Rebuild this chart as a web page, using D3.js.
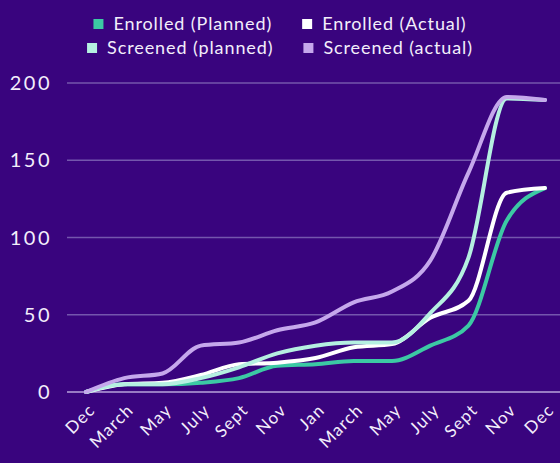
<!DOCTYPE html>
<html>
<head>
<meta charset="utf-8">
<script src="https://cdn.jsdelivr.net/npm/d3@7"></script>
<style>
  html, body { margin: 0; padding: 0; background: #39047e; }
  svg text { font-family: Lato, "Noto Sans", sans-serif; fill: #f3eefb; }
</style>
</head>
<body>
<div class="chart"></div>
<script>
var width = 560, height = 463

// month labels on the x axis (categorical, repeat across two years)
var months = ['Dec', 'March', 'May', 'July', 'Sept', 'Nov', 'Jan', 'March', 'May', 'July', 'Sept', 'Nov', 'Dec']
var yTicks = [0, 50, 100, 150, 200]

var enrolledPlanned  = [0, 5, 5, 6, 9, 17, 18, 20, 20, 30, 43, 111, 132]
var enrolledActual   = [0, 5, 6, 11, 18, 19, 22, 29, 31, 48, 59, 129, 132]
var screenedPlanned  = [0, 5, 5, 9, 16, 25, 30, 32, 32, 51, 87, 190, 189]
var screenedActual   = [0, 9, 12, 30, 32, 40, 45, 58, 65, 85, 142, 191, 189]

var seriesNames = ['Enrolled (Planned)', 'Enrolled (Actual)', 'Screened (planned)', 'Screened (actual)']
var seriesColors = ['#3cc9a4', '#ffffff', '#b5f0e1', '#c5a8ec']

function drawGraph() {
    var svg = d3.select('.chart')
        .append('svg')
        .attr('width', width)
        .attr('height', height)

    var x = d3.scalePoint()
        .domain(d3.range(months.length))
        .range([86, 545])

    var y = d3.scaleLinear()
        .domain([0, 200])
        .range([392, 83])

    // gridlines
    svg.append('g')
        .selectAll('line')
        .data(yTicks)
        .enter()
        .append('line')
        .attr('x1', 67)
        .attr('x2', width)
        .attr('y1', d => y(d))
        .attr('y2', d => y(d))
        .attr('stroke', d => d === 0 ? '#b9a3dc' : '#7456ad')
        .attr('stroke-width', 1.5)

    // y labels
    svg.append('g')
        .selectAll('text')
        .data(yTicks)
        .enter()
        .append('text')
        .attr('x', 52)
        .attr('y', d => y(d))
        .attr('dy', '0.36em')
        .attr('text-anchor', 'end')
        .style('font-size', '20px')
        .style('letter-spacing', '2.5px')
        .text(d => d)

    // x labels, rotated
    svg.append('g')
        .selectAll('text')
        .data(d3.range(months.length))
        .enter()
        .append('text')
        .attr('transform', d => 'translate(' + (x(d) + 6) + ',' + 407 + ') rotate(-45)')
        .attr('text-anchor', 'end')
        .attr('dy', '0.35em')
        .style('font-size', '17px')
        .style('letter-spacing', '1.2px')
        .text(d => months[d])

    var allSeries = [enrolledPlanned, enrolledActual, screenedPlanned, screenedActual]

    var line = d3.line()
        .x((d, i) => x(i))
        .y(d => y(d))
        .curve(d3.curveMonotoneX)

    svg.append('g')
        .selectAll('path')
        .data(allSeries)
        .enter()
        .append('path')
        .attr('d', line)
        .attr('fill', 'none')
        .attr('stroke', (d, i) => seriesColors[i])
        .attr('stroke-width', 4)
        .attr('stroke-linecap', 'round')
        .attr('stroke-linejoin', 'round')

    // legend: two rows, each centered
    var rows = [[0, 1], [2, 3]]
    var rowY = [24, 48]
    rows.forEach(function(row, r) {
        var g = svg.append('g')
        var cx = 0
        row.forEach(function(s, k) {
            if (k > 0) cx += 30
            g.append('rect')
                .attr('x', cx)
                .attr('y', rowY[r] - 5)
                .attr('width', 10)
                .attr('height', 10)
                .attr('fill', seriesColors[s])
            var t = g.append('text')
                .attr('x', cx + 20)
                .attr('y', rowY[r])
                .attr('dy', '0.35em')
                .style('font-size', '18px')
                .style('letter-spacing', '0.9px')
                .text(seriesNames[s])
            cx += 20 + t.node().getComputedTextLength()
        })
        g.attr('transform', 'translate(' + (280 - cx / 2) + ',0)')
    })
}

drawGraph()
</script>
</body>
</html>
